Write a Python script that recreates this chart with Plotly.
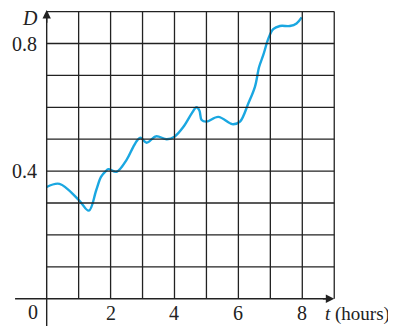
import plotly.graph_objects as go

# Data
t_hours = [0, 0.4, 1.0, 1.32, 1.55, 1.7, 1.85, 1.93, 2.19, 2.5, 2.71, 2.84, 2.94, 3.13, 3.42, 3.76,
           4.0, 4.28, 4.54, 4.69, 4.78, 4.85, 5.0, 5.37, 5.74, 5.84, 6.05, 6.31, 6.52, 6.65, 6.78,
           6.94, 7.09, 7.3, 7.61, 7.82, 7.98]
D_values = [0.35, 0.36, 0.31, 0.276, 0.34, 0.382, 0.40, 0.406, 0.398, 0.435, 0.476, 0.497, 0.505,
            0.489, 0.509, 0.50, 0.508, 0.539, 0.581, 0.60, 0.59, 0.56, 0.555, 0.57, 0.55, 0.547,
            0.555, 0.612, 0.665, 0.727, 0.764, 0.816, 0.845, 0.855, 0.855, 0.863, 0.882]
x_ticks = [2, 4, 6, 8]
y_ticks = [0.4, 0.8]
x_grid = [1, 2, 3, 4, 5, 6, 7, 8, 9]
y_grid = [0.1, 0.2, 0.3, 0.4, 0.5, 0.6, 0.7, 0.8, 0.9]

FONT = "Liberation Serif"
FS = 20
GRID = "#222222"

fig = go.Figure()
fig.add_trace(go.Scatter(x=t_hours, y=D_values, mode="lines",
                         line=dict(color="#1aa7e1", width=2.4, shape="spline", smoothing=1.0),
                         hoverinfo="skip", showlegend=False))

shapes = []
for gx in x_grid:
    shapes.append(dict(type="line", xref="x", yref="y", x0=gx, x1=gx, y0=0, y1=0.9,
                       line=dict(color=GRID, width=1.3)))
for gy in y_grid:
    shapes.append(dict(type="line", xref="x", yref="y", x0=0, x1=9, y0=gy, y1=gy,
                       line=dict(color=GRID, width=1.3)))
# axes
shapes.append(dict(type="line", xref="x", yref="y", x0=-0.99, x1=8.8, y0=0, y1=0,
                   line=dict(color=GRID, width=1.4)))
shapes.append(dict(type="line", xref="x", yref="y", x0=0, x1=0, y0=-0.12, y1=0.88,
                   line=dict(color=GRID, width=1.4)))

annotations = []
# arrow heads
annotations.append(dict(x=9.0, y=0, ax=8.6, ay=0, xref="x", yref="y", axref="x", ayref="y",
                        text="", showarrow=True, arrowhead=2, arrowsize=1.2, arrowwidth=1.4,
                        arrowcolor=GRID))
annotations.append(dict(x=0, y=0.905, ax=0, ay=0.86, xref="x", yref="y", axref="x", ayref="y",
                        text="", showarrow=True, arrowhead=2, arrowsize=1.2, arrowwidth=1.4,
                        arrowcolor=GRID))
for v in y_ticks:
    annotations.append(dict(x=-0.24, y=v, xref="x", yref="y", text=f"{v:.1f}", showarrow=False,
                            xanchor="right", yanchor="middle",
                            font=dict(family=FONT, size=FS, color="#222")))
for v in x_ticks:
    annotations.append(dict(x=v, y=-0.044, xref="x", yref="y", text=str(v), showarrow=False,
                            xanchor="center", yanchor="middle",
                            font=dict(family=FONT, size=FS, color="#222")))
annotations.append(dict(x=-0.22, y=-0.042, xref="x", yref="y", text="0", showarrow=False,
                        xanchor="right", yanchor="middle",
                        font=dict(family=FONT, size=FS, color="#222")))
annotations.append(dict(x=-0.53, y=0.881, xref="x", yref="y", text="<i>D</i>", showarrow=False,
                        xanchor="center", yanchor="middle",
                        font=dict(family=FONT, size=FS, color="#222")))
annotations.append(dict(x=8.66, y=-0.047, xref="x", yref="y", text="<i>t</i> (hours)",
                        showarrow=False, xanchor="left", yanchor="middle",
                        font=dict(family=FONT, size=FS - 1, color="#222")))

# page body has an 8px default margin: the figure is sized to fit the window exactly
fig.update_layout(
    width=388, height=318,
    margin=dict(l=0, r=0, t=0, b=0),
    paper_bgcolor="white", plot_bgcolor="white",
    xaxis=dict(range=[-1.211, 10.933], visible=False, fixedrange=True),
    yaxis=dict(range=[-0.0856, 0.9113], visible=False, fixedrange=True),
    shapes=shapes, annotations=annotations,
)

fig.write_html("out.html")
